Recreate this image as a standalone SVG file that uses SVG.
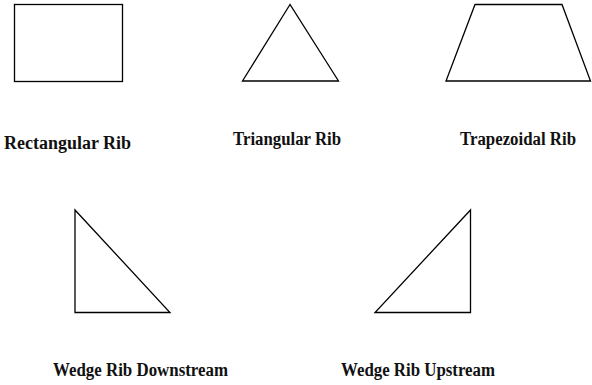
<svg xmlns="http://www.w3.org/2000/svg" width="592" height="385" viewBox="0 0 592 385">
<style>
.shape{fill:#fff;stroke:#000;stroke-width:1.3;stroke-linejoin:miter}
.lbl{font-family:"Liberation Serif","Times New Roman",serif;font-weight:bold;font-size:18.5px;fill:#111}
</style>
<rect width="592" height="385" fill="#fff"/>
<g id="rectangular">
<rect class="shape" x="14.5" y="4.5" width="108" height="77"/>
<text class="lbl" x="4" y="148.5" textLength="127" lengthAdjust="spacingAndGlyphs">Rectangular Rib</text>
</g>
<g id="triangular">
<polygon class="shape" points="290,4.5 242.5,81 338.5,81"/>
<text class="lbl" x="233" y="144.5" textLength="108" lengthAdjust="spacingAndGlyphs">Triangular Rib</text>
</g>
<g id="trapezoidal">
<polygon class="shape" points="475,4.5 562,4.5 590.5,81 446,81"/>
<text class="lbl" x="460" y="144.5" textLength="116" lengthAdjust="spacingAndGlyphs">Trapezoidal Rib</text>
</g>
<g id="wedge-downstream">
<polygon class="shape" points="75,210 75,312.5 170,312.5"/>
<text class="lbl" x="53" y="375.5" textLength="175" lengthAdjust="spacingAndGlyphs">Wedge Rib Downstream</text>
</g>
<g id="wedge-upstream">
<polygon class="shape" points="470.5,210 470.5,312.5 375,312.5"/>
<text class="lbl" x="341" y="375.5" textLength="154" lengthAdjust="spacingAndGlyphs">Wedge Rib Upstream</text>
</g>
<g id="connectors"/>
</svg>
